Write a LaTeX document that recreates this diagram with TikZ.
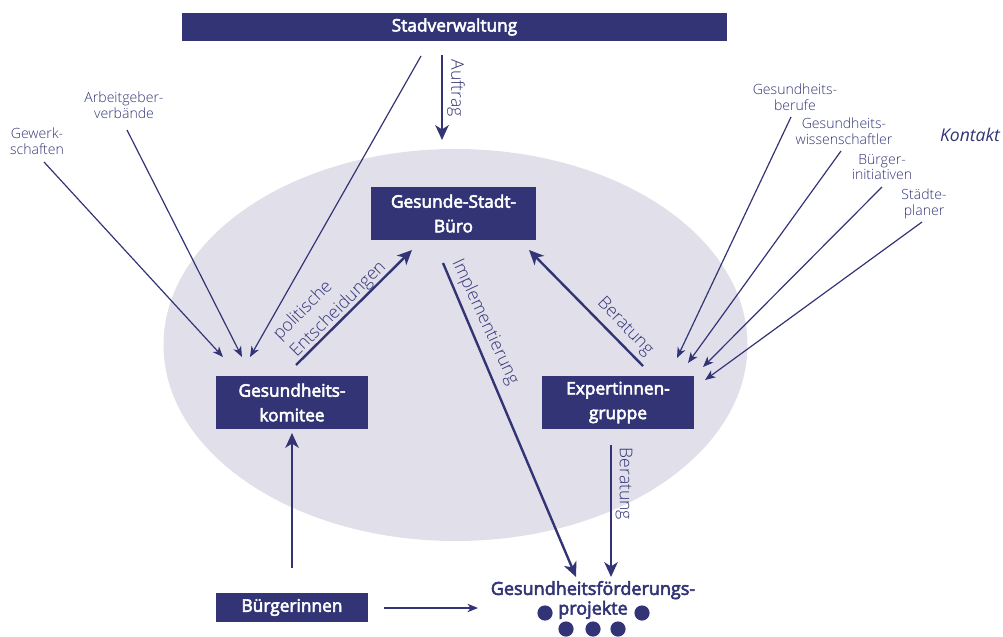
\documentclass[tikz,border=0pt]{standalone}
\usepackage{fontspec}
\setmainfont{Open Sans}
\newfontfamily\lightfont{Open Sans Light}
\newfontfamily\semifont{Open Sans}[FakeBold=3.2]
\usetikzlibrary{arrows.meta}
\definecolor{navy}{HTML}{323476}
\definecolor{lav}{HTML}{E1DFE9}
\tikzset{
  box/.style={fill=navy, text=white, inner sep=0pt, align=center,
    font=\semifont\fontsize{12.3}{17.5}\selectfont},
  lbl/.style={text=navy, inner sep=0pt, align=center,
    font=\lightfont\fontsize{10}{11.3}\selectfont},
  rlbl/.style={text=navy, inner sep=0pt, font=\lightfont\fontsize{12.5}{17}\selectfont},
  thinarrow/.style={draw=navy, line width=0.85pt,
    -{Stealth[length=7.5pt,width=6pt,inset=2.2pt]}},
  thickarrow/.style={draw=navy, line width=1.7pt,
    -{Stealth[length=10.5pt,width=9.5pt,inset=3pt]}},
  dot/.style={circle, fill=navy, minimum size=0.38cm, inner sep=0pt}
}
\begin{document}
\begin{tikzpicture}[x=0.025cm,y=-0.025cm]
\useasboundingbox (0,0) rectangle (1003,636);
% background ellipse
\fill[lav] (455.5,345) ellipse [x radius=292, y radius=196];

% boxes
\node[box, minimum width=13.625cm, minimum height=0.7cm] (stadt) at (454.5,27) {Stadverwaltung};
\node[box, minimum width=4.125cm, minimum height=1.325cm] (buero) at (453.5,213.5) {Gesunde-Stadt-\\Büro};
\node[box, minimum width=3.8cm, minimum height=1.325cm] (komitee) at (292,402.5) {Gesundheits-\\komitee};
\node[box, minimum width=3.8cm, minimum height=1.325cm] (expert) at (618,402.5) {Expertinnen-\\gruppe};
\node[box, minimum width=3.8cm, minimum height=0.725cm] (buerger) at (292,607.5) {Bürgerinnen};
\node[text=navy, inner sep=0pt, align=center, font=\semifont\fontsize{12.8}{14}\selectfont] (proj) at (593,600) {Gesundheitsförderungs-\\projekte};
\node[dot] (d1) at (545,613) {};
\node[dot] (d2) at (642,613) {};
\node[dot] (d3) at (566,629) {};
\node[dot] (d4) at (593,629) {};
\node[dot] (d5) at (618,629) {};

% small labels
\node[lbl] (gew) at (37,141) {Gewerk-\\schaften};
\node[lbl] (arb) at (124,105) {Arbeitgeber-\\verbände};
\node[lbl] (beruf) at (795,97) {Gesundheits-\\berufe};
\node[lbl] (wiss) at (844,131) {Gesundheits-\\wissenschaftler};
\node[lbl] (init) at (882,167) {Bürger-\\initiativen};
\node[lbl] (plan) at (924,204) {Städte-\\planer};
\node[text=navy, inner sep=0pt, font=\itshape\fontsize{12.5}{15}\selectfont] (kontakt) at (970,135) {Kontakt};

% coordinates
\coordinate (gew1) at (44,162);   \coordinate (gew2) at (223,357);
\coordinate (arb1) at (127,130);  \coordinate (arb2) at (242,357);
\coordinate (st1) at (421,56);    \coordinate (st2) at (250,357);
\coordinate (be1) at (791,117);   \coordinate (be2) at (677,358);
\coordinate (wi1) at (841,151);   \coordinate (wi2) at (688,363);
\coordinate (in1) at (882,187);   \coordinate (in2) at (703,367);
\coordinate (pl1) at (922,222);   \coordinate (pl2) at (705,380);
\coordinate (bp1) at (384,608);   \coordinate (bp2) at (478,608);
\coordinate (au1) at (442,55);    \coordinate (au2) at (442,140);
\coordinate (po1) at (296,365);   \coordinate (po2) at (412,250);
\coordinate (im1) at (443,263);   \coordinate (im2) at (576,577);
\coordinate (ba1) at (643,366);   \coordinate (ba2) at (529,250);
\coordinate (bb1) at (611,445);   \coordinate (bb2) at (611,577);
\coordinate (bk1) at (292,568);   \coordinate (bk2) at (292,433);

% thin connectors
\draw[thinarrow] (gew1) -- (gew2);
\draw[thinarrow] (arb1) -- (arb2);
\draw[thinarrow] (st1) -- (st2);
\draw[thinarrow] (be1) -- (be2);
\draw[thinarrow] (wi1) -- (wi2);
\draw[thinarrow] (in1) -- (in2);
\draw[thinarrow] (pl1) -- (pl2);
\draw[thinarrow] (bp1) -- (bp2);

% thick connectors
\draw[thickarrow] (au1) -- (au2);
\draw[thickarrow] (po1) -- (po2);
\draw[thickarrow] (im1) -- (im2);
\draw[thickarrow] (ba1) -- (ba2);
\draw[thickarrow] (bb1) -- (bb2);
\draw[thickarrow] (bk1) -- (bk2);

% rotated labels
\node[rlbl, rotate=-90] (lauf) at (456,88) {Auftrag};
\node[rlbl, rotate=45, align=left] (lpol) at (330,301) {politische\\Entscheidungen};
\node[rlbl, rotate=-65] (limp) at (485,322) {Implementierung};
\node[rlbl, rotate=-46] (lber1) at (625,327) {Beratung};
\node[rlbl, rotate=-90] (lber2) at (624,484) {Beratung};
\end{tikzpicture}
\end{document}
